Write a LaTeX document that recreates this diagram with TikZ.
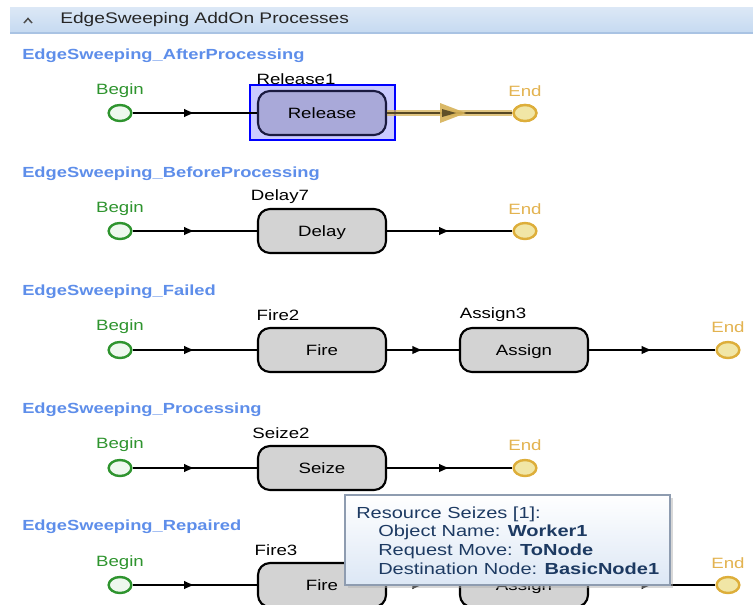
\documentclass[tikz,border=0pt]{standalone}
\usepackage{fontspec}
\setmainfont{Liberation Sans}[FakeStretch=1.25]
\usetikzlibrary{shapes.geometric,arrows.meta,decorations.markings,shadows}
\definecolor{hdrtop}{HTML}{DCE8F6}
\definecolor{hdrbot}{HTML}{C6DAF1}
\definecolor{hdrline}{HTML}{A9C3E3}
\definecolor{ttl}{HTML}{5E8EEA}
\definecolor{bgreen}{HTML}{2E942E}
\definecolor{bfill}{HTML}{EEF8EE}
\definecolor{eyel}{HTML}{DDAE3A}
\definecolor{efill}{HTML}{F1E6A6}
\definecolor{elbl}{HTML}{E3B350}
\definecolor{pfill}{HTML}{D3D3D3}
\definecolor{relfill}{HTML}{A9A9D9}
\definecolor{relline}{HTML}{1A1A40}
\definecolor{gold}{HTML}{D6B258}
\definecolor{tipline}{HTML}{8E9CB0}
\definecolor{tiptext}{HTML}{1D3A62}
\definecolor{tipbot}{HTML}{DCE7F5}
\tikzset{
  x=0.75pt, y=-0.75pt,
  proc/.style={draw=black, fill=pfill, line width=1.6pt, rounded corners=9pt,
    minimum width=96pt, minimum height=33pt, inner sep=0pt, text height=8pt, text depth=0pt,
    font=\fontsize{11.2}{13}\selectfont},
  beginnode/.style={ellipse, draw=bgreen, fill=bfill, line width=1.8pt,
    minimum width=17pt, minimum height=12pt, inner sep=0pt},
  endnode/.style={ellipse, draw=eyel, fill=efill, line width=1.8pt,
    minimum width=17pt, minimum height=12pt, inner sep=0pt},
  begintxt/.style={text=bgreen, font=\fontsize{11.2}{13}\selectfont, inner sep=0pt},
  endtxt/.style={text=elbl, font=\fontsize{11.2}{13}\selectfont, inner sep=0pt},
  namelbl/.style={font=\fontsize{11.2}{13}\selectfont, inner sep=0pt},
  rowtitle/.style={text=ttl, font=\bfseries\fontsize{11}{13}\selectfont, anchor=west, inner sep=0pt},
  flow/.style={draw=black, line width=1.3pt, postaction={decorate},
    decoration={markings, mark=at position 0.5 with {\arrow{Latex[length=8pt,width=6.5pt]}}}},
  tipbody/.style={font=\fontsize{12}{14}\selectfont, text=tiptext, anchor=west, inner sep=0pt}
}
\begin{document}
\begin{tikzpicture}
\clip (0,0) rectangle (753,604);
\fill[white] (0,0) rectangle (753,604);
% header
\shade[top color=hdrtop, bottom color=hdrbot] (10,7) rectangle (753,32);
\draw[hdrline, line width=1.5pt] (10,32.5) -- (753,32.5);
\draw[black!70, line width=1.1pt] (24,23) -- (28,18.5) -- (32,23);
\node[anchor=west, inner sep=0pt, font=\fontsize{11.5}{13}\selectfont, text=black!85] (hdr) at (60,20) {EdgeSweeping AddOn Processes};

% ---------- Row 1 ----------
\node[rowtitle] (t1) at (22,56) {EdgeSweeping\_AfterProcessing};
\node[beginnode] (b1) at (120,113) {};
\node[begintxt] (b1l) at (120,91) {Begin};
\fill[blue!25, opacity=0.8] (250,85) rectangle (395,140);
\draw[blue, line width=1pt] (250,85) rectangle (395,140);
\node[proc, fill=relfill, draw=relline] (p1) at (322,113) {Release};
\node[namelbl] (p1l) at (296,79) {Release1};
\node[endnode] (e1) at (525,113) {};
\node[endtxt] (e1l) at (525,91) {End};
\draw[flow] (b1) -- (p1);
\draw[gold, opacity=0.75, line width=4.5pt] (p1) -- (e1);
\draw[black!60!gold, line width=1.2pt] (p1) -- (e1);
\fill[gold, opacity=0.9] (440,103) -- (466,113) -- (440,123) -- cycle;
\fill[black!55!gold] (442,109) -- (456,113) -- (442,117) -- cycle;
\node[endnode] at (e1) {};

% ---------- Row 2 ----------
\node[rowtitle] (t2) at (22,174) {EdgeSweeping\_BeforeProcessing};
\node[beginnode] (b2) at (120,231) {};
\node[begintxt] (b2l) at (120,209) {Begin};
\node[proc] (p2) at (322,231) {Delay};
\node[namelbl] (p2l) at (280,197) {Delay7};
\node[endnode] (e2) at (525,231) {};
\node[endtxt] (e2l) at (525,209) {End};
\draw[flow] (b2) -- (p2);
\draw[flow] (p2) -- (e2);

% ---------- Row 3 ----------
\node[rowtitle] (t3) at (22,292) {EdgeSweeping\_Failed};
\node[beginnode] (b3) at (120,350) {};
\node[begintxt] (b3l) at (120,327) {Begin};
\node[proc] (p3) at (322,350) {Fire};
\node[namelbl] (p3l) at (278,315) {Fire2};
\node[proc] (q3) at (524,350) {Assign};
\node[namelbl] (q3l) at (493,315) {Assign3};
\node[endnode] (e3) at (728,350) {};
\node[endtxt] (e3l) at (728,327) {End};
\draw[flow] (b3) -- (p3);
\draw[flow] (p3) -- (q3);
\draw[flow] (q3) -- (e3);

% ---------- Row 4 ----------
\node[rowtitle] (t4) at (22,410) {EdgeSweeping\_Processing};
\node[beginnode] (b4) at (120,468) {};
\node[begintxt] (b4l) at (120,445) {Begin};
\node[proc] (p4) at (322,468) {Seize};
\node[namelbl] (p4l) at (281,433) {Seize2};
\node[endnode] (e4) at (525,468) {};
\node[endtxt] (e4l) at (525,445) {End};
\draw[flow] (b4) -- (p4);
\draw[flow] (p4) -- (e4);

% ---------- Row 5 ----------
\node[rowtitle] (t5) at (22,527) {EdgeSweeping\_Repaired};
\node[beginnode] (b5) at (120,585) {};
\node[begintxt] (b5l) at (120,563) {Begin};
\node[proc] (p5) at (322,585) {Fire};
\node[namelbl] (p5l) at (276,550) {Fire3};
\node[proc] (q5) at (524,585) {Assign};
\node[endnode] (e5) at (728,585) {};
\node[endtxt] (e5l) at (728,563) {End};
\draw[flow] (b5) -- (p5);
\draw[flow] (p5) -- (q5);
\draw[flow] (q5) -- (e5);

% tooltip
\fill[black!30, opacity=0.5] (348,498) rectangle (673,588);
\shade[top color=white, bottom color=tipbot] (345,495) rectangle (670,585);
\draw[tipline, line width=0.8pt] (345,495) rectangle (670,585);
\node[tipbody] (tp1) at (356,514) {Resource Seizes [1]:};
\node[tipbody] (tp2) at (378,532) {Object Name: \textbf{Worker1}};
\node[tipbody] (tp3) at (378,551) {Request Move: \textbf{ToNode}};
\node[tipbody] (tp4) at (378,569) {Destination Node: \textbf{BasicNode1}};
\end{tikzpicture}
\end{document}
